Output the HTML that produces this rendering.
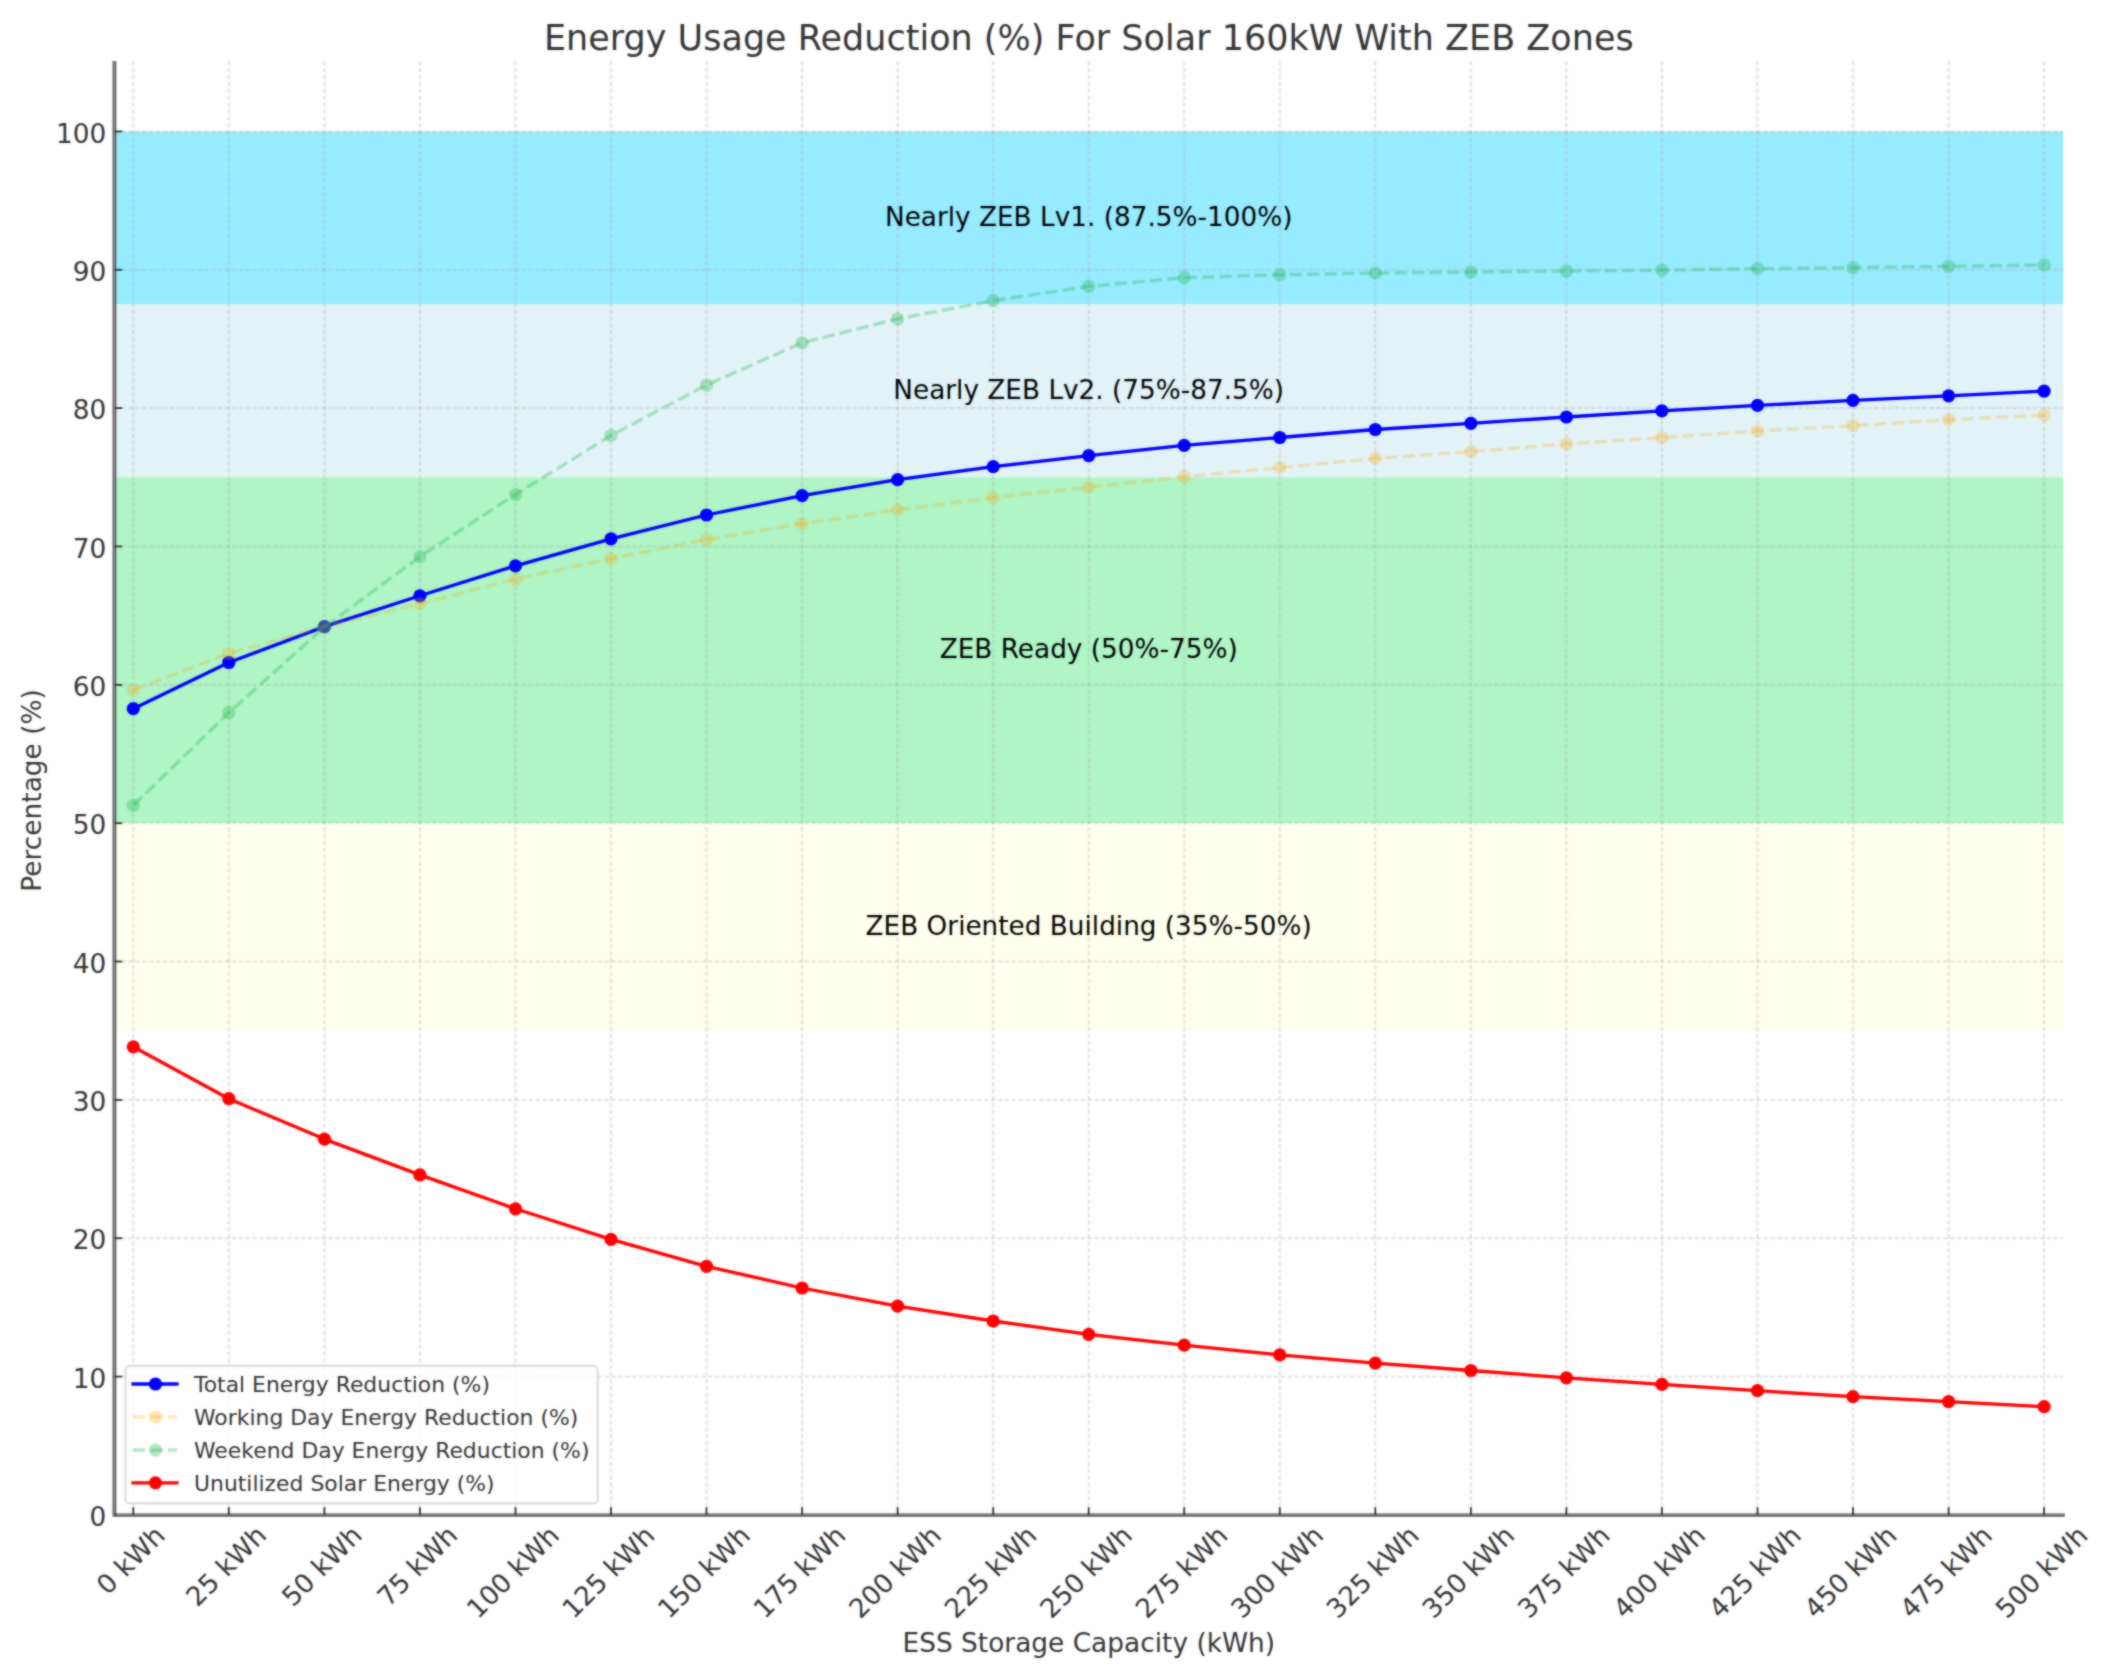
<!DOCTYPE html>
<html><head><meta charset="utf-8"><title>Energy Usage Reduction</title>
<style>html,body{margin:0;padding:0;background:#fff;overflow:hidden}svg{display:block}.soft{filter:blur(0.8px);opacity:0.6}</style></head>
<body>
<svg width="2108" height="1671" viewBox="0 0 2108 1671" font-family="DejaVu Sans, Liberation Sans, sans-serif">
<g id="chart">
<rect x="-10" y="-10" width="2128" height="1691" fill="#fff"/>
<rect x="114.5" y="131.5" width="1948.7" height="172.9" fill="#97ebff"/>
<rect x="114.5" y="304.4" width="1948.7" height="172.9" fill="#e2f3f7"/>
<rect x="114.5" y="477.3" width="1948.7" height="345.9" fill="#aff5c6"/>
<rect x="114.5" y="823.2" width="1948.7" height="207.5" fill="#ffffee"/>
<g stroke="#a8a8a8" stroke-opacity="0.32" stroke-width="2.0" stroke-dasharray="4.5 2.4" fill="none">
<line x1="133.3" y1="61.0" x2="133.3" y2="1514.95"/>
<line x1="228.8" y1="61.0" x2="228.8" y2="1514.95"/>
<line x1="324.4" y1="61.0" x2="324.4" y2="1514.95"/>
<line x1="419.9" y1="61.0" x2="419.9" y2="1514.95"/>
<line x1="515.5" y1="61.0" x2="515.5" y2="1514.95"/>
<line x1="611.0" y1="61.0" x2="611.0" y2="1514.95"/>
<line x1="706.5" y1="61.0" x2="706.5" y2="1514.95"/>
<line x1="802.1" y1="61.0" x2="802.1" y2="1514.95"/>
<line x1="897.6" y1="61.0" x2="897.6" y2="1514.95"/>
<line x1="993.2" y1="61.0" x2="993.2" y2="1514.95"/>
<line x1="1088.7" y1="61.0" x2="1088.7" y2="1514.95"/>
<line x1="1184.2" y1="61.0" x2="1184.2" y2="1514.95"/>
<line x1="1279.8" y1="61.0" x2="1279.8" y2="1514.95"/>
<line x1="1375.3" y1="61.0" x2="1375.3" y2="1514.95"/>
<line x1="1470.9" y1="61.0" x2="1470.9" y2="1514.95"/>
<line x1="1566.4" y1="61.0" x2="1566.4" y2="1514.95"/>
<line x1="1661.9" y1="61.0" x2="1661.9" y2="1514.95"/>
<line x1="1757.5" y1="61.0" x2="1757.5" y2="1514.95"/>
<line x1="1853.0" y1="61.0" x2="1853.0" y2="1514.95"/>
<line x1="1948.6" y1="61.0" x2="1948.6" y2="1514.95"/>
<line x1="2044.1" y1="61.0" x2="2044.1" y2="1514.95"/>
<line x1="114.5" y1="1376.6" x2="2063.2" y2="1376.6"/>
<line x1="114.5" y1="1238.2" x2="2063.2" y2="1238.2"/>
<line x1="114.5" y1="1099.9" x2="2063.2" y2="1099.9"/>
<line x1="114.5" y1="961.5" x2="2063.2" y2="961.5"/>
<line x1="114.5" y1="823.2" x2="2063.2" y2="823.2"/>
<line x1="114.5" y1="684.9" x2="2063.2" y2="684.9"/>
<line x1="114.5" y1="546.5" x2="2063.2" y2="546.5"/>
<line x1="114.5" y1="408.1" x2="2063.2" y2="408.1"/>
<line x1="114.5" y1="269.8" x2="2063.2" y2="269.8"/>
<line x1="114.5" y1="131.5" x2="2063.2" y2="131.5"/>
</g>
<text x="1088.7" y="225.9" font-size="26.3" text-anchor="middle" fill="#000">Nearly ZEB Lv1. (87.5%-100%)</text>
<text x="1088.7" y="398.9" font-size="26.3" text-anchor="middle" fill="#000">Nearly ZEB Lv2. (75%-87.5%)</text>
<text x="1088.7" y="658.3" font-size="26.3" text-anchor="middle" fill="#000">ZEB Ready (50%-75%)</text>
<text x="1088.7" y="935.0" font-size="26.3" text-anchor="middle" fill="#000">ZEB Oriented Building (35%-50%)</text>
<g opacity="1"><polyline points="133.3,708.7 228.8,662.5 324.4,626.6 419.9,595.8 515.5,565.8 611.0,538.8 706.5,515.0 802.1,495.6 897.6,479.6 993.2,466.7 1088.7,455.7 1184.2,445.4 1279.8,437.5 1375.3,429.5 1470.9,423.3 1566.4,417.0 1661.9,410.8 1757.5,405.4 1853.0,400.4 1948.6,395.8 2044.1,391.1" fill="none" stroke="#0000ff" stroke-opacity="1.0" stroke-width="3.3" stroke-linejoin="round"/><circle cx="133.3" cy="708.7" r="6.6" fill="#0000ff" fill-opacity="1.0"/><circle cx="228.8" cy="662.5" r="6.6" fill="#0000ff" fill-opacity="1.0"/><circle cx="324.4" cy="626.6" r="6.6" fill="#0000ff" fill-opacity="1.0"/><circle cx="419.9" cy="595.8" r="6.6" fill="#0000ff" fill-opacity="1.0"/><circle cx="515.5" cy="565.8" r="6.6" fill="#0000ff" fill-opacity="1.0"/><circle cx="611.0" cy="538.8" r="6.6" fill="#0000ff" fill-opacity="1.0"/><circle cx="706.5" cy="515.0" r="6.6" fill="#0000ff" fill-opacity="1.0"/><circle cx="802.1" cy="495.6" r="6.6" fill="#0000ff" fill-opacity="1.0"/><circle cx="897.6" cy="479.6" r="6.6" fill="#0000ff" fill-opacity="1.0"/><circle cx="993.2" cy="466.7" r="6.6" fill="#0000ff" fill-opacity="1.0"/><circle cx="1088.7" cy="455.7" r="6.6" fill="#0000ff" fill-opacity="1.0"/><circle cx="1184.2" cy="445.4" r="6.6" fill="#0000ff" fill-opacity="1.0"/><circle cx="1279.8" cy="437.5" r="6.6" fill="#0000ff" fill-opacity="1.0"/><circle cx="1375.3" cy="429.5" r="6.6" fill="#0000ff" fill-opacity="1.0"/><circle cx="1470.9" cy="423.3" r="6.6" fill="#0000ff" fill-opacity="1.0"/><circle cx="1566.4" cy="417.0" r="6.6" fill="#0000ff" fill-opacity="1.0"/><circle cx="1661.9" cy="410.8" r="6.6" fill="#0000ff" fill-opacity="1.0"/><circle cx="1757.5" cy="405.4" r="6.6" fill="#0000ff" fill-opacity="1.0"/><circle cx="1853.0" cy="400.4" r="6.6" fill="#0000ff" fill-opacity="1.0"/><circle cx="1948.6" cy="395.8" r="6.6" fill="#0000ff" fill-opacity="1.0"/><circle cx="2044.1" cy="391.1" r="6.6" fill="#0000ff" fill-opacity="1.0"/></g>
<g opacity="1"><polyline points="133.3,690.1 228.8,653.5 324.4,626.6 419.9,603.7 515.5,579.0 611.0,558.6 706.5,539.5 802.1,523.7 897.6,509.8 993.2,497.6 1088.7,487.3 1184.2,476.6 1279.8,467.7 1375.3,458.4 1470.9,451.5 1566.4,444.1 1661.9,437.5 1757.5,431.0 1853.0,425.7 1948.6,419.7 2044.1,415.0" fill="none" stroke="#ffa500" stroke-opacity="0.26" stroke-width="3.3" stroke-linejoin="round" stroke-dasharray="12.2 5.3"/><circle cx="133.3" cy="690.1" r="6.6" fill="#ffa500" fill-opacity="0.26"/><circle cx="228.8" cy="653.5" r="6.6" fill="#ffa500" fill-opacity="0.26"/><circle cx="324.4" cy="626.6" r="6.6" fill="#ffa500" fill-opacity="0.26"/><circle cx="419.9" cy="603.7" r="6.6" fill="#ffa500" fill-opacity="0.26"/><circle cx="515.5" cy="579.0" r="6.6" fill="#ffa500" fill-opacity="0.26"/><circle cx="611.0" cy="558.6" r="6.6" fill="#ffa500" fill-opacity="0.26"/><circle cx="706.5" cy="539.5" r="6.6" fill="#ffa500" fill-opacity="0.26"/><circle cx="802.1" cy="523.7" r="6.6" fill="#ffa500" fill-opacity="0.26"/><circle cx="897.6" cy="509.8" r="6.6" fill="#ffa500" fill-opacity="0.26"/><circle cx="993.2" cy="497.6" r="6.6" fill="#ffa500" fill-opacity="0.26"/><circle cx="1088.7" cy="487.3" r="6.6" fill="#ffa500" fill-opacity="0.26"/><circle cx="1184.2" cy="476.6" r="6.6" fill="#ffa500" fill-opacity="0.26"/><circle cx="1279.8" cy="467.7" r="6.6" fill="#ffa500" fill-opacity="0.26"/><circle cx="1375.3" cy="458.4" r="6.6" fill="#ffa500" fill-opacity="0.26"/><circle cx="1470.9" cy="451.5" r="6.6" fill="#ffa500" fill-opacity="0.26"/><circle cx="1566.4" cy="444.1" r="6.6" fill="#ffa500" fill-opacity="0.26"/><circle cx="1661.9" cy="437.5" r="6.6" fill="#ffa500" fill-opacity="0.26"/><circle cx="1757.5" cy="431.0" r="6.6" fill="#ffa500" fill-opacity="0.26"/><circle cx="1853.0" cy="425.7" r="6.6" fill="#ffa500" fill-opacity="0.26"/><circle cx="1948.6" cy="419.7" r="6.6" fill="#ffa500" fill-opacity="0.26"/><circle cx="2044.1" cy="415.0" r="6.6" fill="#ffa500" fill-opacity="0.26"/></g>
<g opacity="1"><polyline points="133.3,805.3 228.8,712.7 324.4,627.2 419.9,556.6 515.5,494.5 611.0,435.5 706.5,385.0 802.1,342.8 897.6,318.9 993.2,300.6 1088.7,286.4 1184.2,277.7 1279.8,274.7 1375.3,273.1 1470.9,272.0 1566.4,271.0 1661.9,270.2 1757.5,268.6 1853.0,267.6 1948.6,266.3 2044.1,265.0" fill="none" stroke="#1eb44b" stroke-opacity="0.32" stroke-width="3.3" stroke-linejoin="round" stroke-dasharray="12.2 5.3"/><circle cx="133.3" cy="805.3" r="6.6" fill="#1eb44b" fill-opacity="0.32"/><circle cx="228.8" cy="712.7" r="6.6" fill="#1eb44b" fill-opacity="0.32"/><circle cx="324.4" cy="627.2" r="6.6" fill="#1eb44b" fill-opacity="0.32"/><circle cx="419.9" cy="556.6" r="6.6" fill="#1eb44b" fill-opacity="0.32"/><circle cx="515.5" cy="494.5" r="6.6" fill="#1eb44b" fill-opacity="0.32"/><circle cx="611.0" cy="435.5" r="6.6" fill="#1eb44b" fill-opacity="0.32"/><circle cx="706.5" cy="385.0" r="6.6" fill="#1eb44b" fill-opacity="0.32"/><circle cx="802.1" cy="342.8" r="6.6" fill="#1eb44b" fill-opacity="0.32"/><circle cx="897.6" cy="318.9" r="6.6" fill="#1eb44b" fill-opacity="0.32"/><circle cx="993.2" cy="300.6" r="6.6" fill="#1eb44b" fill-opacity="0.32"/><circle cx="1088.7" cy="286.4" r="6.6" fill="#1eb44b" fill-opacity="0.32"/><circle cx="1184.2" cy="277.7" r="6.6" fill="#1eb44b" fill-opacity="0.32"/><circle cx="1279.8" cy="274.7" r="6.6" fill="#1eb44b" fill-opacity="0.32"/><circle cx="1375.3" cy="273.1" r="6.6" fill="#1eb44b" fill-opacity="0.32"/><circle cx="1470.9" cy="272.0" r="6.6" fill="#1eb44b" fill-opacity="0.32"/><circle cx="1566.4" cy="271.0" r="6.6" fill="#1eb44b" fill-opacity="0.32"/><circle cx="1661.9" cy="270.2" r="6.6" fill="#1eb44b" fill-opacity="0.32"/><circle cx="1757.5" cy="268.6" r="6.6" fill="#1eb44b" fill-opacity="0.32"/><circle cx="1853.0" cy="267.6" r="6.6" fill="#1eb44b" fill-opacity="0.32"/><circle cx="1948.6" cy="266.3" r="6.6" fill="#1eb44b" fill-opacity="0.32"/><circle cx="2044.1" cy="265.0" r="6.6" fill="#1eb44b" fill-opacity="0.32"/></g>
<g opacity="1"><polyline points="133.3,1046.8 228.8,1098.7 324.4,1139.1 419.9,1174.9 515.5,1208.8 611.0,1239.4 706.5,1266.3 802.1,1288.0 897.6,1306.1 993.2,1321.0 1088.7,1334.3 1184.2,1345.2 1279.8,1354.9 1375.3,1363.2 1470.9,1370.5 1566.4,1377.8 1661.9,1384.4 1757.5,1390.7 1853.0,1396.7 1948.6,1401.7 2044.1,1406.7" fill="none" stroke="#ff0000" stroke-opacity="1.0" stroke-width="3.3" stroke-linejoin="round"/><circle cx="133.3" cy="1046.8" r="6.6" fill="#ff0000" fill-opacity="1.0"/><circle cx="228.8" cy="1098.7" r="6.6" fill="#ff0000" fill-opacity="1.0"/><circle cx="324.4" cy="1139.1" r="6.6" fill="#ff0000" fill-opacity="1.0"/><circle cx="419.9" cy="1174.9" r="6.6" fill="#ff0000" fill-opacity="1.0"/><circle cx="515.5" cy="1208.8" r="6.6" fill="#ff0000" fill-opacity="1.0"/><circle cx="611.0" cy="1239.4" r="6.6" fill="#ff0000" fill-opacity="1.0"/><circle cx="706.5" cy="1266.3" r="6.6" fill="#ff0000" fill-opacity="1.0"/><circle cx="802.1" cy="1288.0" r="6.6" fill="#ff0000" fill-opacity="1.0"/><circle cx="897.6" cy="1306.1" r="6.6" fill="#ff0000" fill-opacity="1.0"/><circle cx="993.2" cy="1321.0" r="6.6" fill="#ff0000" fill-opacity="1.0"/><circle cx="1088.7" cy="1334.3" r="6.6" fill="#ff0000" fill-opacity="1.0"/><circle cx="1184.2" cy="1345.2" r="6.6" fill="#ff0000" fill-opacity="1.0"/><circle cx="1279.8" cy="1354.9" r="6.6" fill="#ff0000" fill-opacity="1.0"/><circle cx="1375.3" cy="1363.2" r="6.6" fill="#ff0000" fill-opacity="1.0"/><circle cx="1470.9" cy="1370.5" r="6.6" fill="#ff0000" fill-opacity="1.0"/><circle cx="1566.4" cy="1377.8" r="6.6" fill="#ff0000" fill-opacity="1.0"/><circle cx="1661.9" cy="1384.4" r="6.6" fill="#ff0000" fill-opacity="1.0"/><circle cx="1757.5" cy="1390.7" r="6.6" fill="#ff0000" fill-opacity="1.0"/><circle cx="1853.0" cy="1396.7" r="6.6" fill="#ff0000" fill-opacity="1.0"/><circle cx="1948.6" cy="1401.7" r="6.6" fill="#ff0000" fill-opacity="1.0"/><circle cx="2044.1" cy="1406.7" r="6.6" fill="#ff0000" fill-opacity="1.0"/></g>
<rect x="112.4" y="61.0" width="2.1" height="1455.7" fill="#787878"/>
<rect x="114.5" y="61.0" width="1.8" height="1455.7" fill="#595959"/>
<rect x="116.3" y="1513.2" width="1948.5" height="1.4" fill="#848484"/>
<rect x="114.5" y="1514.6" width="1950.3" height="2.1" fill="#595959"/>
<rect x="114.5" y="1513.1" width="1.8" height="1.9" fill="#303030"/>
<g stroke="#333" stroke-width="1.8">
<line x1="133.3" y1="1514.95" x2="133.3" y2="1507.25"/>
<line x1="228.8" y1="1514.95" x2="228.8" y2="1507.25"/>
<line x1="324.4" y1="1514.95" x2="324.4" y2="1507.25"/>
<line x1="419.9" y1="1514.95" x2="419.9" y2="1507.25"/>
<line x1="515.5" y1="1514.95" x2="515.5" y2="1507.25"/>
<line x1="611.0" y1="1514.95" x2="611.0" y2="1507.25"/>
<line x1="706.5" y1="1514.95" x2="706.5" y2="1507.25"/>
<line x1="802.1" y1="1514.95" x2="802.1" y2="1507.25"/>
<line x1="897.6" y1="1514.95" x2="897.6" y2="1507.25"/>
<line x1="993.2" y1="1514.95" x2="993.2" y2="1507.25"/>
<line x1="1088.7" y1="1514.95" x2="1088.7" y2="1507.25"/>
<line x1="1184.2" y1="1514.95" x2="1184.2" y2="1507.25"/>
<line x1="1279.8" y1="1514.95" x2="1279.8" y2="1507.25"/>
<line x1="1375.3" y1="1514.95" x2="1375.3" y2="1507.25"/>
<line x1="1470.9" y1="1514.95" x2="1470.9" y2="1507.25"/>
<line x1="1566.4" y1="1514.95" x2="1566.4" y2="1507.25"/>
<line x1="1661.9" y1="1514.95" x2="1661.9" y2="1507.25"/>
<line x1="1757.5" y1="1514.95" x2="1757.5" y2="1507.25"/>
<line x1="1853.0" y1="1514.95" x2="1853.0" y2="1507.25"/>
<line x1="1948.6" y1="1514.95" x2="1948.6" y2="1507.25"/>
<line x1="2044.1" y1="1514.95" x2="2044.1" y2="1507.25"/>
<line x1="114.5" y1="1376.6" x2="122.2" y2="1376.6"/>
<line x1="114.5" y1="1238.2" x2="122.2" y2="1238.2"/>
<line x1="114.5" y1="1099.9" x2="122.2" y2="1099.9"/>
<line x1="114.5" y1="961.5" x2="122.2" y2="961.5"/>
<line x1="114.5" y1="823.2" x2="122.2" y2="823.2"/>
<line x1="114.5" y1="684.9" x2="122.2" y2="684.9"/>
<line x1="114.5" y1="546.5" x2="122.2" y2="546.5"/>
<line x1="114.5" y1="408.1" x2="122.2" y2="408.1"/>
<line x1="114.5" y1="269.8" x2="122.2" y2="269.8"/>
<line x1="114.5" y1="131.5" x2="122.2" y2="131.5"/>
</g>
<text x="106.3" y="1526.0" font-size="26.4" text-anchor="end" fill="#333">0</text>
<text x="106.3" y="1387.7" font-size="26.4" text-anchor="end" fill="#333">10</text>
<text x="106.3" y="1249.3" font-size="26.4" text-anchor="end" fill="#333">20</text>
<text x="106.3" y="1111.0" font-size="26.4" text-anchor="end" fill="#333">30</text>
<text x="106.3" y="972.6" font-size="26.4" text-anchor="end" fill="#333">40</text>
<text x="106.3" y="834.3" font-size="26.4" text-anchor="end" fill="#333">50</text>
<text x="106.3" y="696.0" font-size="26.4" text-anchor="end" fill="#333">60</text>
<text x="106.3" y="557.6" font-size="26.4" text-anchor="end" fill="#333">70</text>
<text x="106.3" y="419.2" font-size="26.4" text-anchor="end" fill="#333">80</text>
<text x="106.3" y="280.9" font-size="26.4" text-anchor="end" fill="#333">90</text>
<text x="106.3" y="142.6" font-size="26.4" text-anchor="end" fill="#333">100</text>
<text transform="translate(130.4,1559.7) rotate(-45)" x="0" y="9.6" font-size="26.4" text-anchor="middle" fill="#333">0 kWh</text>
<text transform="translate(225.9,1565.6) rotate(-45)" x="0" y="9.6" font-size="26.4" text-anchor="middle" fill="#333">25 kWh</text>
<text transform="translate(321.5,1565.6) rotate(-45)" x="0" y="9.6" font-size="26.4" text-anchor="middle" fill="#333">50 kWh</text>
<text transform="translate(417.0,1565.6) rotate(-45)" x="0" y="9.6" font-size="26.4" text-anchor="middle" fill="#333">75 kWh</text>
<text transform="translate(512.6,1571.6) rotate(-45)" x="0" y="9.6" font-size="26.4" text-anchor="middle" fill="#333">100 kWh</text>
<text transform="translate(608.1,1571.6) rotate(-45)" x="0" y="9.6" font-size="26.4" text-anchor="middle" fill="#333">125 kWh</text>
<text transform="translate(703.6,1571.6) rotate(-45)" x="0" y="9.6" font-size="26.4" text-anchor="middle" fill="#333">150 kWh</text>
<text transform="translate(799.2,1571.6) rotate(-45)" x="0" y="9.6" font-size="26.4" text-anchor="middle" fill="#333">175 kWh</text>
<text transform="translate(894.7,1571.6) rotate(-45)" x="0" y="9.6" font-size="26.4" text-anchor="middle" fill="#333">200 kWh</text>
<text transform="translate(990.3,1571.6) rotate(-45)" x="0" y="9.6" font-size="26.4" text-anchor="middle" fill="#333">225 kWh</text>
<text transform="translate(1085.8,1571.6) rotate(-45)" x="0" y="9.6" font-size="26.4" text-anchor="middle" fill="#333">250 kWh</text>
<text transform="translate(1181.3,1571.6) rotate(-45)" x="0" y="9.6" font-size="26.4" text-anchor="middle" fill="#333">275 kWh</text>
<text transform="translate(1276.9,1571.6) rotate(-45)" x="0" y="9.6" font-size="26.4" text-anchor="middle" fill="#333">300 kWh</text>
<text transform="translate(1372.4,1571.6) rotate(-45)" x="0" y="9.6" font-size="26.4" text-anchor="middle" fill="#333">325 kWh</text>
<text transform="translate(1468.0,1571.6) rotate(-45)" x="0" y="9.6" font-size="26.4" text-anchor="middle" fill="#333">350 kWh</text>
<text transform="translate(1563.5,1571.6) rotate(-45)" x="0" y="9.6" font-size="26.4" text-anchor="middle" fill="#333">375 kWh</text>
<text transform="translate(1659.0,1571.6) rotate(-45)" x="0" y="9.6" font-size="26.4" text-anchor="middle" fill="#333">400 kWh</text>
<text transform="translate(1754.6,1571.6) rotate(-45)" x="0" y="9.6" font-size="26.4" text-anchor="middle" fill="#333">425 kWh</text>
<text transform="translate(1850.1,1571.6) rotate(-45)" x="0" y="9.6" font-size="26.4" text-anchor="middle" fill="#333">450 kWh</text>
<text transform="translate(1945.7,1571.6) rotate(-45)" x="0" y="9.6" font-size="26.4" text-anchor="middle" fill="#333">475 kWh</text>
<text transform="translate(2041.2,1571.6) rotate(-45)" x="0" y="9.6" font-size="26.4" text-anchor="middle" fill="#333">500 kWh</text>
<text x="1088.8" y="1652.2" font-size="26.4" text-anchor="middle" fill="#333">ESS Storage Capacity (kWh)</text>
<text transform="translate(41.3,790.4) rotate(-90)" font-size="26.4" text-anchor="middle" fill="#333">Percentage (%)</text>
<text x="1088.8" y="50.4" font-size="35.0" text-anchor="middle" fill="#333">Energy Usage Reduction (%) For Solar 160kW With ZEB Zones</text>
<rect x="125.5" y="1365.8" width="472.3" height="137.5" rx="4.4" fill="#fff" fill-opacity="0.8" stroke="#d0d0d0" stroke-opacity="0.8" stroke-width="2"/>
<line x1="131.4" y1="1384.0" x2="178.6" y2="1384.0" stroke="#0000ff" stroke-opacity="1" stroke-width="3.3"/>
<circle cx="155.5" cy="1384.0" r="6.6" fill="#0000ff" fill-opacity="1"/>
<text x="194" y="1392.0" font-size="21.9" fill="#333">Total Energy Reduction (%)</text>
<line x1="133.0" y1="1417.0" x2="176.9" y2="1417.0" stroke="#ffa500" stroke-opacity="0.26" stroke-width="3.3" stroke-dasharray="12.2 5.3"/>
<circle cx="155.5" cy="1417.0" r="6.6" fill="#ffa500" fill-opacity="0.26"/>
<text x="194" y="1425.0" font-size="21.9" fill="#333">Working Day Energy Reduction (%)</text>
<line x1="133.0" y1="1450.0" x2="176.9" y2="1450.0" stroke="#1eb44b" stroke-opacity="0.32" stroke-width="3.3" stroke-dasharray="12.2 5.3"/>
<circle cx="155.5" cy="1450.0" r="6.6" fill="#1eb44b" fill-opacity="0.32"/>
<text x="194" y="1458.0" font-size="21.9" fill="#333">Weekend Day Energy Reduction (%)</text>
<line x1="131.4" y1="1482.8" x2="178.6" y2="1482.8" stroke="#ff0000" stroke-opacity="1" stroke-width="3.3"/>
<circle cx="155.5" cy="1482.8" r="6.6" fill="#ff0000" fill-opacity="1"/>
<text x="194" y="1490.8" font-size="21.9" fill="#333">Unutilized Solar Energy (%)</text>
</g>
<use href="#chart" class="soft"/>
</svg>
</body></html>
